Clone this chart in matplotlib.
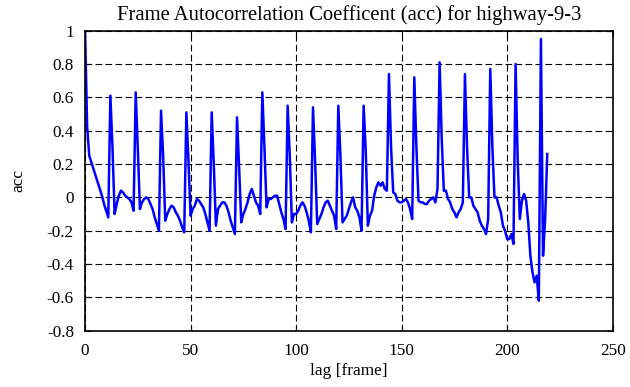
import matplotlib
matplotlib.use('Agg')
import matplotlib.pyplot as plt
import numpy as np

plt.rcParams['font.family'] = 'Liberation Serif'
plt.rcParams['font.size'] = 12.4
plt.rcParams['axes.unicode_minus'] = False

# autocorrelation per lag (0..219)
acc = [
    1.00, 0.42, 0.25, 0.21, 0.17, 0.13, 0.09, 0.05, 0.01, -0.04,
    -0.08, -0.12, 0.61, 0.30, -0.10, -0.04, 0.01, 0.04, 0.03, 0.01,
    0.00, -0.01, -0.03, -0.08, 0.63, 0.29, -0.07, -0.03, -0.01, 0.00,
    -0.01, -0.04, -0.07, -0.12, -0.16, -0.20, 0.52, 0.25, -0.14, -0.10,
    -0.07, -0.05, -0.06, -0.09, -0.11, -0.14, -0.18, -0.21, 0.51, 0.22,
    -0.11, -0.07, -0.05, -0.01, -0.02, -0.04, -0.06, -0.10, -0.15, -0.20,
    0.51, 0.20, -0.17, -0.07, -0.05, -0.03, -0.03, -0.05, -0.09, -0.14,
    -0.18, -0.22, 0.48, 0.18, -0.15, -0.10, -0.07, -0.03, 0.02, 0.05,
    0.01, -0.03, -0.05, -0.10, 0.63, 0.30, -0.06, -0.01, -0.01, 0.00,
    0.01, 0.01, -0.04, -0.09, -0.13, -0.19, 0.55, 0.25, -0.15, -0.10,
    -0.10, -0.08, -0.05, -0.03, -0.05, -0.09, -0.14, -0.21, 0.54, 0.22,
    -0.16, -0.13, -0.10, -0.06, -0.03, -0.02, -0.05, -0.08, -0.11, -0.19,
    0.55, 0.25, -0.15, -0.13, -0.11, -0.07, -0.03, 0.00, -0.06, -0.08,
    -0.12, -0.20, 0.55, 0.28, -0.17, -0.11, -0.08, 0.01, 0.06, 0.09,
    0.07, 0.09, 0.05, 0.04, 0.74, 0.30, 0.03, 0.02, -0.02, -0.03,
    -0.03, -0.02, -0.01, -0.03, -0.07, -0.13, 0.72, 0.30, -0.02, -0.03,
    -0.03, -0.04, -0.04, -0.02, -0.01, 0.00, -0.03, 0.05, 0.81, 0.35,
    0.04, 0.04, -0.01, -0.03, -0.07, -0.09, -0.12, -0.09, -0.07, -0.03,
    0.74, 0.30, 0.00, 0.00, -0.05, -0.07, -0.09, -0.14, -0.17, -0.19,
    -0.22, -0.13, 0.77, 0.30, 0.00, 0.00, -0.05, -0.09, -0.17, -0.20,
    -0.25, -0.25, -0.22, -0.28, 0.80, 0.22, -0.13, -0.02, 0.02, -0.02,
    -0.15, -0.35, -0.45, -0.51, -0.47, -0.62, 0.95, -0.35, -0.13, 0.26,
]
lags = np.arange(len(acc))

xticks = [0, 50, 100, 150, 200, 250]
yticks = [-0.8, -0.6, -0.4, -0.2, 0, 0.2, 0.4, 0.6, 0.8, 1]
ylabels = ['-0.8', '-0.6', '-0.4', '-0.2', '0', '0.2', '0.4', '0.6', '0.8', '1']

fig = plt.figure(figsize=(6.3, 3.87), dpi=100)
ax = fig.add_axes([0.135, 0.1455, 0.8375, 0.7752])

ax.plot(lags, acc, color=(0, 0, 1), linewidth=1.8)

ax.set_xlim(0, 250)
ax.set_ylim(-0.8, 1)
ax.set_xticks(xticks)
ax.set_yticks(yticks)
ax.set_yticklabels(ylabels)
ax.grid(True, color='black', linestyle=(0, (6, 3)), linewidth=0.8)
ax.tick_params(direction='in', length=4, top=True, right=True)
ax.tick_params(axis='x', pad=9)
ax.tick_params(axis='y', pad=8)
for s in ax.spines.values():
    s.set_linewidth(1.2)

ax.set_title('Frame Autocorrelation Coefficent (acc) for highway-9-3', pad=8)
ax.set_xlabel('lag [frame]', labelpad=3)
ax.set_ylabel('acc', labelpad=15)

fig.savefig('out.png', dpi=100)
